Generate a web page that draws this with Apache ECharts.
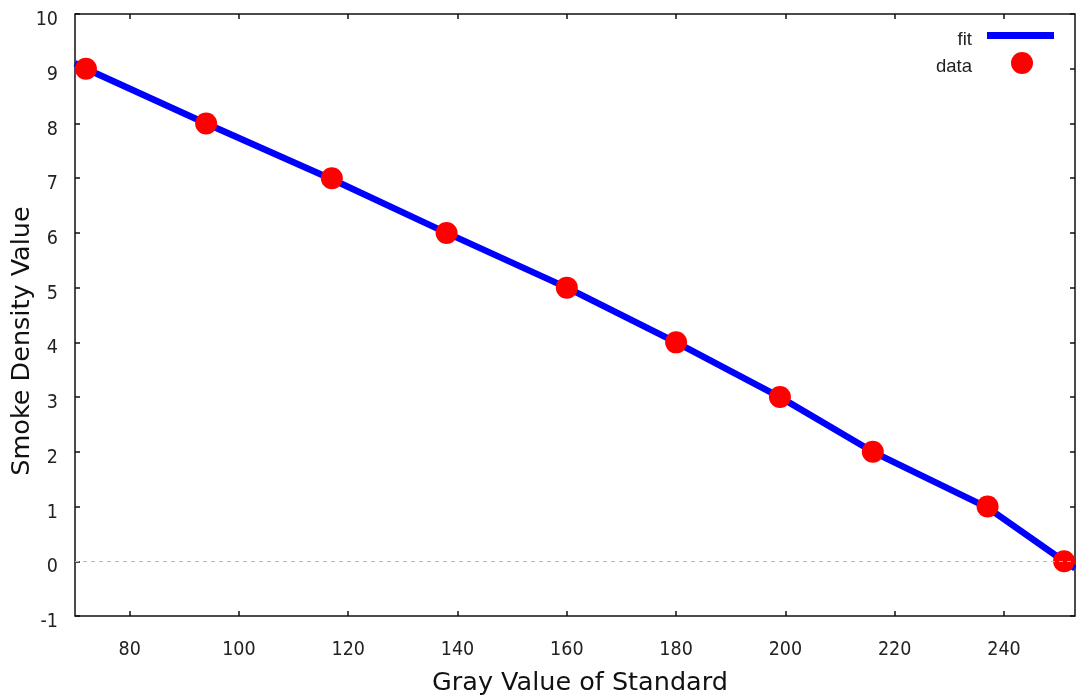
<!DOCTYPE html>
<html>
<head>
<meta charset="utf-8">
<script src="https://cdn.jsdelivr.net/npm/echarts@6/dist/echarts.min.js"></script>
<style>
  html, body { margin: 0; padding: 0; background: #fff; }
  #main { width: 1076px; height: 696px; }
</style>
</head>
<body>
<div id="main"></div>
<script>
// measured points (gray value of standard -> smoke density)
var grayValues = [72, 94, 117, 138, 160, 180, 199, 216, 237, 251];
var densityValues = [9, 8, 7, 6, 5, 4, 3, 2, 1, 0];

// fitted curve
var fitX = [70, 72, 94, 117, 138, 160, 180, 199, 216, 237, 251, 253];
var fitY = [9.1, 9.0, 8.0, 6.98, 6.0, 5.0, 4.0, 3.0, 2.0, 0.98, 0.0, -0.13];

var xTicks = [80, 100, 120, 140, 160, 180, 200, 220, 240];

var labelFont = "'Liberation Sans Narrow', 'DejaVu Sans Condensed', sans-serif";
var titleFont = "'DejaVu Sans', sans-serif";
var legendFont = "'Liberation Sans', Arial, sans-serif";

var chart = echarts.init(document.getElementById('main'));

function legendText(rightGap) {
    return {
        fontFamily: legendFont, fontSize: 18.5, color: '#222',
        rich: {
            t: { fontFamily: legendFont, fontSize: 18.5, color: '#222', padding: [8, rightGap, 0, 0] }
        }
    };
}

var option = {
    animation: false,
    grid: {
        left: 75, right: 1, top: 14, bottom: 80,
        outerBoundsMode: 'none',
        containLabel: false,
        show: true,
        borderColor: '#111',
        borderWidth: 1.5
    },
    legend: [
        {
            data: [{ name: 'fit', icon: 'rect' }],
            right: 22, top: 30,
            padding: 0,
            align: 'right',
            itemWidth: 67, itemHeight: 7,
            formatter: '{t|{name}}',
            textStyle: legendText(10)
        },
        {
            data: [{ name: 'data', icon: 'circle' }],
            right: 43, top: 52,
            padding: 0,
            align: 'right',
            itemWidth: 22, itemHeight: 22,
            formatter: '{t|{name}}',
            textStyle: legendText(34)
        }
    ],
    xAxis: [
        {
            type: 'value',
            min: 70, max: 253,
            name: 'Gray Value of Standard',
            nameLocation: 'middle',
            nameGap: 54,
            nameMoveOverlap: false,
            nameTextStyle: { fontFamily: titleFont, fontSize: 25.5, color: '#111', padding: [0, 0, 0, 10] },
            axisLine: { show: false, onZero: false },
            axisTick: { inside: true, length: 5, customValues: xTicks, lineStyle: { color: '#111', width: 1.5 } },
            axisLabel: { customValues: xTicks, margin: 24, fontFamily: labelFont, fontSize: 19.5, color: '#222' },
            splitLine: { show: false }
        },
        {
            type: 'value',
            position: 'top',
            min: 70, max: 253,
            axisLine: { show: false, onZero: false },
            axisTick: { inside: true, length: 5, customValues: xTicks, lineStyle: { color: '#111', width: 1.5 } },
            axisLabel: { show: false },
            splitLine: { show: false }
        }
    ],
    yAxis: [
        {
            type: 'value',
            min: -1, max: 10, interval: 1,
            name: 'Smoke Density Value',
            nameLocation: 'middle',
            nameGap: 40,
            nameMoveOverlap: false,
            nameTextStyle: { fontFamily: titleFont, fontSize: 25.5, color: '#111', padding: [0, 52, 0, 0] },
            axisLine: { show: false, onZero: false },
            axisTick: { inside: true, length: 5, lineStyle: { color: '#111', width: 1.5 } },
            axisLabel: { margin: 17, fontFamily: labelFont, fontSize: 19.5, color: '#222', verticalAlign: 'top', lineHeight: 12 },
            splitLine: { show: false }
        },
        {
            type: 'value',
            position: 'right',
            min: -1, max: 10, interval: 1,
            axisLine: { show: false, onZero: false },
            axisTick: { inside: true, length: 5, lineStyle: { color: '#111', width: 1.5 } },
            axisLabel: { show: false },
            splitLine: { show: false }
        }
    ],
    series: [
        {
            name: 'fit',
            type: 'line',
            data: fitX.map(function (x, i) { return [x, fitY[i]]; }),
            showSymbol: false,
            smooth: false,
            clip: true,
            itemStyle: { color: '#0000ff' },
            lineStyle: { color: '#0000ff', width: 6.5 },
            markLine: {
                silent: true,
                symbol: 'none',
                label: { show: false },
                lineStyle: { color: '#bbb', type: [4, 4], width: 1 },
                data: [{ yAxis: 0 }]
            },
            z: 2
        },
        {
            name: 'data',
            type: 'scatter',
            data: grayValues.map(function (x, i) { return [x, densityValues[i]]; }),
            symbol: 'circle',
            symbolSize: 22,
            itemStyle: { color: '#ff0000', opacity: 1 },
            z: 3
        }
    ]
};

chart.setOption(option);
</script>
</body>
</html>
